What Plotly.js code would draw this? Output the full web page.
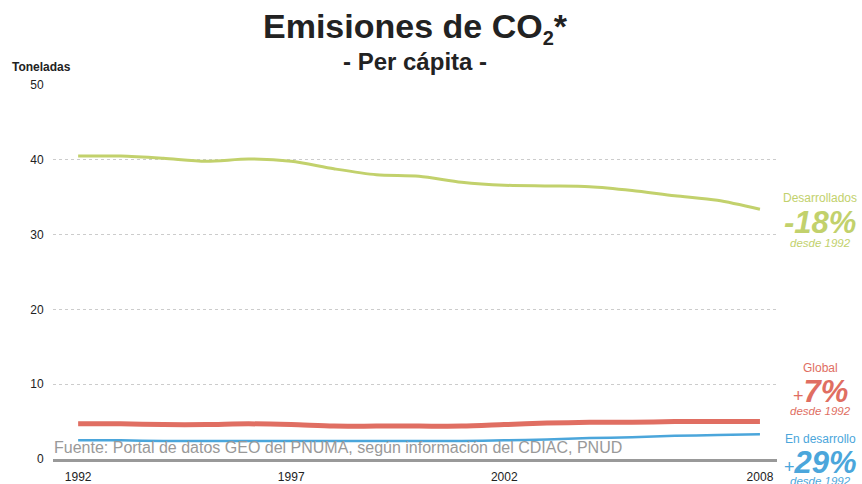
<!DOCTYPE html>
<html>
<head>
<meta charset="utf-8">
<script src="https://cdn.plot.ly/plotly-3.0.1.min.js"></script>
<style>html,body{margin:0;padding:0;background:#fff;}#chart{width:862px;height:484px;}</style>
</head>
<body>
<div id="chart"></div>
<script>
const years = [1992,1993,1994,1995,1996,1997,1998,1999,2000,2001,2002,2003,2004,2005,2006,2007,2008];
const desarrollados = [40.5,40.5,40.2,39.8,40.1,39.8,38.8,38.0,37.8,37.0,36.6,36.5,36.4,35.9,35.2,34.6,33.4];
const global = [4.7,4.7,4.6,4.6,4.7,4.6,4.4,4.4,4.4,4.4,4.6,4.8,4.9,4.9,5.0,5.0,5.0];
const enDesarrollo = [2.5,2.5,2.4,2.4,2.4,2.4,2.4,2.4,2.4,2.4,2.5,2.6,2.8,2.9,3.1,3.2,3.3];
const xTicks = [1992,1997,2002,2008];
const yTicks = [0,10,20,30,40,50];

const cGreen = '#c2d16c', cRed = '#e06e62', cBlue = '#4ba6db';
const F = 'Arial, "Liberation Sans", sans-serif';

const traces = [
  {x: years, y: desarrollados, mode: 'lines', line: {color: cGreen, width: 3, shape: 'spline', smoothing: 0.8}, hoverinfo: 'skip'},
  {x: years, y: global, mode: 'lines', line: {color: cRed, width: 5, shape: 'spline', smoothing: 0.8}, hoverinfo: 'skip'},
  {x: years, y: enDesarrollo, mode: 'lines', line: {color: cBlue, width: 2.5, shape: 'spline', smoothing: 0.8}, hoverinfo: 'skip'}
];

// plot area: x 53..777, y 85..459
const px = v => (v - 53) / 724;
const py = v => (459 - v) / 374;
const ax = px(820);

function ann(x, y, text, size, color, anchor) {
  return {xref: 'paper', yref: 'paper', x: x, y: y, xanchor: anchor || 'center', yanchor: 'middle',
          showarrow: false, text: text, font: {family: F, size: size, color: color}};
}

const layout = {
  width: 862, height: 484,
  margin: {l: 53, r: 85, t: 85, b: 25},
  paper_bgcolor: '#fff', plot_bgcolor: '#fff',
  showlegend: false,
  font: {family: F, color: '#222', size: 12},
  xaxis: {
    range: [1991.41, 2008.40], tickvals: xTicks, ticktext: xTicks.map(String),
    showgrid: false, zeroline: false, showline: true, linecolor: '#999', linewidth: 3,
    ticks: 'outside', ticklen: 5, tickcolor: 'rgba(0,0,0,0)',
    tickfont: {family: F, size: 12, color: '#222'}, fixedrange: true
  },
  yaxis: {
    range: [0, 50], tickvals: yTicks, ticktext: yTicks.map(String),
    showgrid: true, gridcolor: '#cccccc', gridwidth: 1, griddash: '3px,3px',
    zeroline: false, showline: false,
    ticks: 'outside', ticklen: 6, tickcolor: 'rgba(0,0,0,0)',
    tickfont: {family: F, size: 12, color: '#222'}, fixedrange: true
  },
  annotations: [
    ann(0.5, py(28), '<b>Emisiones de CO<sub><span style="font-size:20px">2</span></sub>*</b>', 34, '#222'),
    ann(0.5, py(62), '<b>- Per cápita -</b>', 24, '#222'),
    ann(px(10), py(67), '<b>Toneladas</b>', 12, '#222', 'left'),
    ann(px(52), py(447), 'Fuente: Portal de datos GEO del PNUMA, según información del CDIAC, PNUD', 16, '#999', 'left'),

    ann(ax, py(198), 'Desarrollados', 12, cGreen),
    ann(ax, py(222), '<b><i>-18%</i></b>', 31, cGreen),
    ann(ax, py(243), '<i>desde 1992</i>', 11.5, cGreen),

    ann(ax, py(368), 'Global', 12, cRed),
    ann(ax, py(391), '<span style="font-size:18px">+</span><b><i>7%</i></b>', 31, cRed),
    ann(ax, py(411), '<i>desde 1992</i>', 11.5, cRed),

    ann(ax, py(439), 'En desarrollo', 12, cBlue),
    ann(ax, py(462), '<span style="font-size:18px">+</span><b><i>29%</i></b>', 31, cBlue),
    ann(ax, py(481), '<i>desde 1992</i>', 11.5, cBlue)
  ]
};

Plotly.newPlot('chart', traces, layout, {displayModeBar: false, staticPlot: true});
</script>
</body>
</html>
